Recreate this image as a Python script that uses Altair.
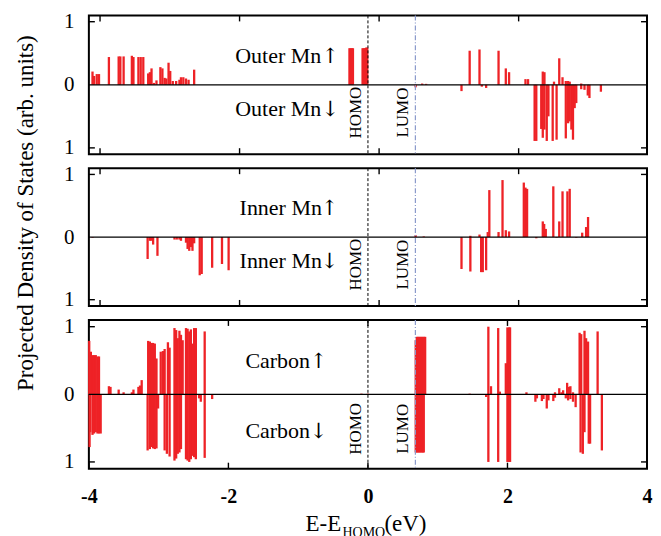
import altair as alt
import pandas as pd

FONT = "Liberation Serif"
RED = "#ee2226"

# ---------------- data (energy in eV relative to HOMO, projected DOS: + spin up, - spin down)
outer_energy = [-3.948, -3.925, -3.887, -3.855, -3.713, -3.573, -3.549, -3.502, -3.384, -3.361,
                -3.29, -3.257, -3.22, -3.15, -3.126, -3.102, -3.069, -3.031, -2.975, -2.946,
                -2.914, -2.89, -2.858, -2.834, -2.797, -2.749, -2.702, -2.68, -2.646, -2.608,
                -2.571, -2.491,
                -0.265, -0.248, -0.232, -0.215, -0.077, -0.06, -0.043, -0.026, -0.01,
                0.683, 0.777, 0.834, 1.341, 1.458, 1.599, 1.632, 1.694, 1.872, 1.976, 2.023,
                2.258, 2.295, 2.389, 2.413, 2.484, 2.506, 2.506, 2.53, 2.53, 2.563, 2.587,
                2.648, 2.667, 2.704, 2.742, 2.789, 2.836, 2.836, 2.869, 2.869, 2.892, 2.892,
                2.916, 2.939, 2.963, 2.986, 3.057, 3.057, 3.104, 3.151, 3.175, 3.339]
outer_dos = [0.21, 0.14, 0.17, 0.17, 0.44, 0.45, 0.45, 0.45, 0.46, 0.44,
             0.44, 0.44, 0.44, 0.18, 0.20, 0.26, 0.03, 0.07, 0.28, 0.26,
             0.11, 0.10, 0.35, 0.22, 0.06, 0.06, 0.08, 0.12, 0.12, 0.10,
             0.08, 0.24,
             0.58, 0.58, 0.58, 0.58, 0.58, 0.58, 0.58, 0.59, 0.59,
             -0.04, 0.02, 0.015, -0.10, 0.54, 0.56, -0.03, -0.05, 0.54, 0.26, 0.20,
             0.09, 0.09, -0.89, -0.89, -0.70, 0.21, -0.84, 0.20, -0.71, -0.89, -0.50,
             -0.89, 0.05, -0.87, 0.42, 0.12, -0.85, 0.06, -0.61, 0.06, -0.58, 0.05,
             -0.71, -0.87, -0.37, -0.29, -0.07, 0.02, -0.08, -0.17, -0.21, -0.11]

inner_energy = [-3.948, -3.158, -3.126, -3.102, -3.079, -3.017, -2.773, -2.74, -2.702, -2.68,
                -2.608, -2.585, -2.561, -2.538, -2.515, -2.491, -2.411, -2.383, -2.233, -2.092,
                -1.997,
                0.683, 0.8, 1.341, 1.468, 1.468, 1.599, 1.623, 1.646, 1.694, 1.717, 1.74,
                1.872, 1.929, 1.976, 2.023, 2.234, 2.258, 2.281, 2.413, 2.506, 2.526, 2.549,
                2.657, 2.704, 2.742, 2.789, 2.859, 2.892, 2.986, 3.071, 3.127, 3.155]
inner_dos = [-0.01, -0.35, -0.06, -0.06, -0.12, -0.30, -0.04, -0.04, -0.04, -0.06,
             -0.09, -0.19, -0.22, -0.16, -0.22, -0.10, -0.61, -0.59, -0.49, -0.43,
             -0.53,
             0.03, 0.01, -0.51, -0.55, 0.02, 0.04, -0.56, -0.56, -0.53, 0.08, 0.75,
             0.08, 0.91, 0.11, 0.09, 0.87, 0.79, 0.77, -0.02, 0.25, 0.21, 0.13,
             0.81, -0.01, 0.25, 0.73, 0.73, 0.77, -0.01, 0.07, 0.16, 0.32]

carbon_energy = [-3.995, -3.972, -3.948, -3.925, -3.901, -3.877, -3.855, -3.713, -3.69, -3.573,
                 -3.502, -3.384, -3.361, -3.29, -3.267, -3.243, -3.15, -3.126, -3.102, -3.079,
                 -3.055, -3.031, -2.97, -2.938, -2.914, -2.867, -2.843, -2.773, -2.749, -2.726,
                 -2.702, -2.68, -2.656, -2.608, -2.585, -2.561, -2.538, -2.515, -2.491, -2.467,
                 -2.34,
                 -3.99, -3.981, -3.948, -3.925, -3.901, -3.877, -3.855, -3.831, -3.158, -3.126,
                 -3.102, -3.079, -3.055, -3.031, -3.008, -2.914, -2.882, -2.843, -2.773, -2.749,
                 -2.726, -2.702, -2.68, -2.608, -2.585, -2.561, -2.538, -2.515, -2.491, -2.467,
                 -2.42, -2.396, -2.34, -2.233,
                 -0.093, 0.0,
                 0.685, 0.70, 0.715, 0.73, 0.745, 0.76, 0.775, 0.79, 0.805, 0.82,
                 0.685, 0.70, 0.715, 0.73, 0.745, 0.76, 0.775, 0.79, 0.80,
                 1.458, 1.694, 1.726, 1.726, 1.764, 1.867, 1.867, 1.891, 1.976, 1.999, 1.999,
                 2.023, 2.023, 2.037, 2.037, 2.272, 2.40, 2.422, 2.493, 2.516, 2.563, 2.587,
                 2.657, 2.681, 2.681, 2.742, 2.774, 2.798, 2.836, 2.855, 2.869, 2.883, 2.902,
                 2.902, 2.939, 2.939, 2.977, 3.034, 3.048, 3.057, 3.08, 3.104, 3.104, 3.127,
                 3.155, 3.165, 3.184, 3.292, 3.353]
carbon_dos = [0.79, 0.63, 0.58, 0.58, 0.58, 0.56, 0.56, 0.12, 0.11, 0.07,
              0.03, 0.03, 0.07, 0.11, 0.13, 0.21, 0.79, 0.78, 0.76, 0.76,
              0.75, 0.53, 0.63, 0.64, 0.67, 0.77, 0.69, 0.98, 0.95, 0.83,
              0.94, 0.88, 0.80, 0.98, 0.97, 0.93, 0.96, 0.75, 0.98, 0.98,
              0.93,
              -0.78, -0.56, -0.60, -0.58, -0.56, -0.58, -0.58, -0.58, -0.83, -0.81,
              -0.78, -0.80, -0.81, -0.80, -0.21, -0.83, -0.88, -0.92, -0.98, -0.95,
              -0.88, -0.86, -0.81, -0.96, -0.98, -1.0, -0.96, -0.91, -0.93, -0.96,
              -0.06, -0.11, -0.94, -0.07,
              0.01, 0.01,
              0.80, 0.85, 0.85, 0.85, 0.85, 0.85, 0.85, 0.85, 0.85, 0.85,
              -0.86, -0.86, -0.86, -0.86, -0.86, -0.86, -0.86, -0.86, -0.86,
              0.01, -0.04, 1.0, -1.0, 0.12, 0.98, -1.0, 0.04, 0.46, 0.99, -1.0,
              0.99, -1.0, 0.99, -1.0, 0.03, -0.11, -0.06, -0.10, -0.07, -0.21, -0.09,
              -0.10, -0.05, 0.03, 0.09, 0.03, 0.06, -0.06, 0.17, -0.09, 0.11, 0.12,
              -0.07, -0.11, 0.03, -0.19, 0.91, -0.86, 0.89, -0.88, 0.94, -0.56, 0.83,
              0.78, -0.73, -0.73, 0.93, -0.83]

x_tick_values = [-4, -2, 0, 2, 4]
y_tick_values = [-1, 0, 1]
y_frame_ticks = [-1, 1]
homo_energy = 0.0
lumo_energy = 0.68
upper_tick_shift = 0.16  # tick marks of the two upper frames sit slightly right

panel_names = ["Outer Mn", "Inner Mn", "Carbon"]
arrow_up = "\u2191"
arrow_down = "\u2193"
name_right_x = [-0.67, -0.66, -0.83]      # right end of the name text
arrow_x = [-0.54, -0.55, -0.71]           # centre of the arrow
name_up_y = [0.35, 0.35, 0.39]            # baselines
name_down_y = [-0.50, -0.50, -0.65]
level_text_y = [-0.44, -0.44, -0.51]
homo_text_x = -0.17
lumo_text_x = 0.50

x_title_main = "E-E"
x_title_sub = "HOMO"
x_title_end = "(eV)"
y_title = "Projected Density of States (arb. units)"

W = 559
HEIGHTS = [139, 138, 149]

xscale = alt.Scale(domain=[-4, 4], nice=False, zero=False)
yscale = alt.Scale(domain=[-1.1, 1.1], nice=False, zero=False)

y_axis = alt.Axis(values=y_tick_values, labelExpr="'' + abs(datum.value)", ticks=False, tickSize=0,
                  domain=False, grid=False, labelFont=FONT, labelFontSize=21, labelPadding=15,
                  labelColor="black", title=None)
x_axis_bottom = alt.Axis(values=x_tick_values, labelExpr="'' + datum.value", ticks=False, tickSize=0,
                         domain=False, grid=False, labelFont=FONT, labelFontSize=20,
                         labelFontWeight="bold", labelPadding=18, labelColor="black",
                         labelFlush=False, title=None)


def panel(i):
    h = HEIGHTS[i]
    bottom = i == 2
    xa = x_axis_bottom if bottom else None

    def X(f):
        return alt.X(f, type="quantitative", scale=xscale, axis=xa, title=None)

    def Y(f):
        return alt.Y(f, type="quantitative", scale=yscale, axis=y_axis, title=None)

    energy, dos = [(outer_energy, outer_dos), (inner_energy, inner_dos), (carbon_energy, carbon_dos)][i]
    df = pd.DataFrame({"E": energy, "D": dos})

    bars = alt.Chart(df).mark_rule(color=RED, strokeWidth=2.3).encode(
        x=X("E"), y=Y("D"), y2=alt.datum(0))

    zero = alt.Chart(pd.DataFrame({"D": [0]})).mark_rule(color="black", strokeWidth=1.3).encode(y=Y("D"))
    homo = alt.Chart(pd.DataFrame({"E": [homo_energy]})).mark_rule(
        color="black", strokeWidth=1, strokeDash=[3, 2]).encode(x=X("E"))
    lumo = alt.Chart(pd.DataFrame({"E": [lumo_energy]})).mark_rule(
        color="#8b9acb", strokeWidth=1.2, strokeDash=[5, 2, 1, 2]).encode(x=X("E"))

    shift = 0 if bottom else upper_tick_shift
    xt = [v + shift for v in x_tick_values if v + shift < 4]
    tdf = pd.DataFrame({"E": xt})
    ticks_top = alt.Chart(tdf).mark_rule(color="black", strokeWidth=1.4).encode(
        x=X("E"), y=alt.value(0), y2=alt.value(6))
    ticks_bot = alt.Chart(tdf).mark_rule(color="black", strokeWidth=1.4).encode(
        x=X("E"), y=alt.value(h), y2=alt.value(h - 6))
    ydf = pd.DataFrame({"D": y_frame_ticks})
    ticks_left = alt.Chart(ydf).mark_rule(color="black", strokeWidth=1.4).encode(
        y=Y("D"), x=alt.value(0), x2=alt.value(6))
    ticks_right = alt.Chart(ydf).mark_rule(color="black", strokeWidth=1.4).encode(
        y=Y("D"), x=alt.value(W), x2=alt.value(W - 6))

    ndf = pd.DataFrame({
        "E": [name_right_x[i]] * 2,
        "D": [name_up_y[i], name_down_y[i]],
        "t": [panel_names[i]] * 2})
    names = alt.Chart(ndf).mark_text(font=FONT, fontSize=22, color="black", align="right",
                                     baseline="alphabetic").encode(x=X("E"), y=Y("D"), text="t:N")
    adf = pd.DataFrame({
        "E": [arrow_x[i]] * 2,
        "D": [name_up_y[i], name_down_y[i]],
        "t": [arrow_up, arrow_down]})
    arrows = alt.Chart(adf).mark_text(font="DejaVu Serif", fontSize=21, color="black", align="center",
                                      baseline="alphabetic").encode(x=X("E"), y=Y("D"), text="t:N")
    rdf = pd.DataFrame({"E": [homo_text_x, lumo_text_x], "D": [level_text_y[i]] * 2, "t": ["HOMO", "LUMO"]})
    rot = alt.Chart(rdf).mark_text(font=FONT, fontSize=17, color="black", align="center",
                                   baseline="middle", angle=270).encode(x=X("E"), y=Y("D"), text="t:N")

    layers = [bars, zero, homo, lumo, ticks_top, ticks_bot, ticks_left, ticks_right, names, arrows, rot]

    if i == 0:
        # invisible spacer fixing the left extent of the figure
        layers.append(alt.Chart(pd.DataFrame({"D": [0]})).mark_rule(color="white", strokeWidth=1).encode(
            x=alt.value(-79), y=alt.value(20), y2=alt.value(21)))
    if i == 1:
        layers.append(alt.Chart(pd.DataFrame({"D": [0]})).mark_text(
            text=y_title, font=FONT, fontSize=23, color="black", angle=270,
            align="center", baseline="middle").encode(x=alt.value(-63), y=alt.value(45)))
    if bottom:
        layers.append(alt.Chart(pd.DataFrame({"D": [0]})).mark_text(
            text=x_title_main, font=FONT, fontSize=23, color="black", align="left",
            baseline="alphabetic").encode(x=alt.value(217), y=alt.value(211)))
        layers.append(alt.Chart(pd.DataFrame({"D": [0]})).mark_text(
            text=x_title_sub, font=FONT, fontSize=14, color="black", align="left",
            baseline="alphabetic").encode(x=alt.value(254), y=alt.value(217)))
        layers.append(alt.Chart(pd.DataFrame({"D": [0]})).mark_text(
            text=x_title_end, font=FONT, fontSize=23, color="black", align="left",
            baseline="alphabetic").encode(x=alt.value(296), y=alt.value(211)))

    return alt.layer(*layers).properties(width=W, height=h)


chart = alt.vconcat(panel(0), panel(1), panel(2), spacing=14, bounds="flush").properties(
    padding={"left": 0, "right": 0, "top": 1, "bottom": 2}).configure(
    font=FONT, background="white").configure_view(stroke="black", strokeWidth=2)

chart.save("out.html", embed_options={"renderer": "svg", "actions": False})
